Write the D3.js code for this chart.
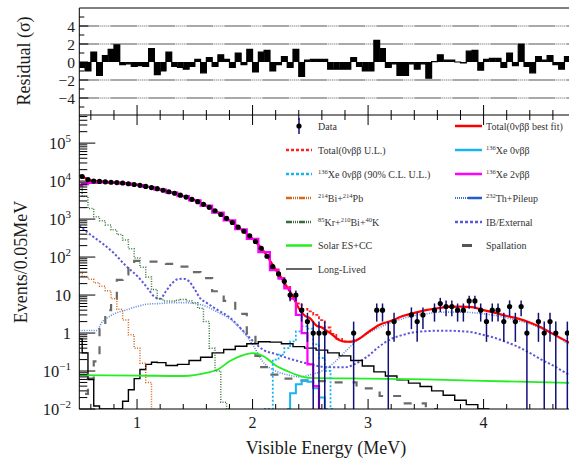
<!DOCTYPE html>
<html>
<head>
<meta charset="utf-8">
<script src="https://cdn.jsdelivr.net/npm/d3@7"></script>
<style>
body { margin: 0; background: #fff; }
svg { display: block; font-family: "Liberation Serif", "DejaVu Serif", serif; }
</style>
</head>
<body>
<div id="chart"></div>
<script>
// binning of the data histogram (MeV)
var binStart = 0.5, binWidth = 0.05;

// data: events per 0.05 MeV bin, from 0.5 MeV
var counts = [13200, 11000, 10000, 9800, 9550, 9330, 9120, 8910, 8510, 8130,
    7760, 7240, 6760, 6310, 5750, 5250, 4790, 4270, 3800, 3310,
    2880, 2450, 2040, 1660, 1320, 1050, 813, 617, 479, 363,
    257, 170, 105, 56, 36, 23, 10, 10, 4, 2,
    1, 1, 1, 0, 0, 0, 0, 1, 0, 0,
    0, 4, 4, 1, 2, 0, 0, 3, 2, 3,
    0, 4, 6, 5, 5, 4, 4, 7, 7, 4,
    2, 4, 4, 2, 5, 2, 5, 1, 0, 2,
    1, 2, 1, 0, 1, 1];

// residuals (sigma) per bin
var residuals = [-0.6, -1.0, 1.1, -1.5, 0.7, 1.4, 1.9, -0.3, -0.2, -0.5,
    -0.4, -0.5, 1.5, -1.4, -1.0, 1.1, -0.5, -0.6, -0.8, -0.5,
    0.3, -1.2, 0.5, -0.5, 0.8, 0.3, -0.6, 1.0, -0.3, 1.4,
    -1.1, 1.1, 1.3, -1.0, -0.3, 0.6, -0.6, 1.4, -1.6, 0.2,
    0.3, 0.3, 0.3, -0.8, -0.8, -0.8, -0.8, 0.5, -0.5, -1.0,
    -1.0, 2.4, 1.5, -0.6, -0.2, -1.5, -1.5, -0.2, -0.8, -0.2,
    -1.8, 0.05, 0.8, 0.2, 0.2, 0.0, -0.1, 1.2, 1.3, -0.9,
    0.3, 0.4, 0.4, -0.6, 1.0, -0.4, 2.0, -0.5, -1.2, 0.6,
    0.2, 0.7, -0.3, -0.8, 0.6, 0.3];

// model components: [energy (MeV), events / 0.05 MeV]
var totalFit = [[0.5, 14500], [0.55, 12000], [0.6, 10500], [0.7, 9800], [0.8, 9300], [0.9, 8800],
    [1.0, 8100], [1.1, 7100], [1.2, 6050], [1.3, 5050], [1.4, 4050], [1.5, 3120], [1.6, 2260],
    [1.7, 1490], [1.8, 925], [1.9, 545], [2.0, 305], [2.1, 138], [2.2, 47], [2.25, 28.5],
    [2.3, 16], [2.35, 9], [2.4, 4.5], [2.45, 2.9], [2.5, 2.4], [2.55, 1.6], [2.6, 1.4],
    [2.65, 1.1], [2.7, 0.85], [2.75, 0.65], [2.8, 0.59], [2.85, 0.59], [2.9, 0.65], [3.0, 1.05],
    [3.1, 1.65], [3.2, 2.1], [3.3, 2.8], [3.4, 3.4], [3.5, 4.0], [3.6, 4.5], [3.7, 4.9],
    [3.8, 4.95], [3.9, 4.8], [4.0, 4.0], [4.1, 3.4], [4.2, 2.8], [4.3, 2.4], [4.4, 1.9],
    [4.5, 1.4], [4.6, 0.95], [4.7, 0.65], [4.8, 0.45]];
var totalUL = [[2.2, 47], [2.25, 28.5], [2.3, 16.5], [2.35, 10], [2.4, 6], [2.45, 4.3], [2.5, 3.7],
    [2.55, 3], [2.6, 2.2], [2.65, 1.4], [2.7, 0.95], [2.75, 0.7], [2.8, 0.6], [2.85, 0.59], [2.9, 0.65]];
var xe0nuFit = [[2.3, 0.005], [2.35, 0.026], [2.4, 0.045], [2.45, 0.057], [2.5, 0.052],
    [2.55, 0.035], [2.6, 0.02], [2.65, 0.004]];
var xe0nuUL = [[2.1, 0.004], [2.15, 0.004], [2.2, 0.2], [2.25, 0.27], [2.3, 0.4], [2.35, 0.6],
    [2.4, 1.1], [2.45, 1.5], [2.5, 1.3], [2.55, 0.5], [2.6, 0.22], [2.65, 0.1], [2.7, 0.004]];
var xe2nu = [[0.5, 7600], [0.55, 8300], [0.6, 9000], [0.7, 9300], [0.8, 9000], [0.9, 8600],
    [1.0, 7900], [1.1, 7000], [1.2, 6000], [1.3, 5000], [1.4, 4000], [1.5, 3100], [1.6, 2250],
    [1.7, 1480], [1.8, 920], [1.9, 540], [2.0, 300], [2.1, 135], [2.2, 45], [2.25, 27],
    [2.3, 15], [2.35, 8], [2.4, 3], [2.45, 1.0], [2.5, 0.15], [2.55, 0.04], [2.6, 0.005]];
var bi214 = [[0.5, 37], [0.55, 31], [0.6, 26], [0.65, 21], [0.7, 17], [0.75, 13], [0.8, 8],
    [0.85, 4.2], [0.9, 2.2], [0.95, 0.9], [1.0, 0.4], [1.05, 0.16], [1.1, 0.05], [1.15, 0.005]];
var kr85 = [[0.5, 6500], [0.55, 4000], [0.6, 1900], [0.65, 1150], [0.7, 900], [0.75, 700],
    [0.8, 520], [0.85, 390], [0.9, 280], [0.95, 165], [1.0, 95], [1.05, 54], [1.1, 30],
    [1.15, 14], [1.2, 8], [1.25, 7], [1.3, 7], [1.35, 7.3], [1.4, 7.6], [1.45, 7], [1.5, 6.3],
    [1.55, 4.5], [1.6, 2], [1.65, 0.4], [1.7, 0.1], [1.75, 0.015], [1.8, 0.003]];
var solar = [[0.5, 0.078], [1.0, 0.076], [1.4, 0.074], [1.6, 0.089], [1.7, 0.11], [1.8, 0.18],
    [1.9, 0.25], [2.0, 0.295], [2.1, 0.24], [2.2, 0.14], [2.3, 0.1], [2.4, 0.076], [2.5, 0.066],
    [3.0, 0.063], [3.5, 0.06], [4.0, 0.055], [4.8, 0.048]];
var longLived = [[0.5, 0.7], [0.55, 0.3], [0.6, 0.06], [0.65, 0.012], [0.7, 0.005], [0.85, 0.005],
    [0.9, 0.016], [0.95, 0.032], [1.0, 0.063], [1.05, 0.11], [1.1, 0.15], [1.15, 0.17],
    [1.2, 0.166], [1.3, 0.14], [1.4, 0.15], [1.5, 0.19], [1.6, 0.23], [1.7, 0.3], [1.8, 0.37],
    [1.9, 0.45], [2.0, 0.52], [2.1, 0.59], [2.2, 0.575], [2.3, 0.52], [2.4, 0.44], [2.5, 0.4],
    [2.6, 0.355], [2.7, 0.3], [2.8, 0.25], [2.9, 0.19], [3.0, 0.135], [3.1, 0.095], [3.2, 0.074],
    [3.3, 0.059], [3.4, 0.048], [3.5, 0.039], [3.6, 0.03], [3.7, 0.023], [3.8, 0.017],
    [3.9, 0.013], [4.0, 0.01], [4.05, 0.005]];
var spallation = [[0.55, 0.025], [0.6, 0.063], [0.65, 0.18], [0.7, 1.26], [0.75, 4], [0.8, 8],
    [0.85, 25], [0.9, 35], [0.95, 63], [1.0, 79], [1.1, 76], [1.2, 76], [1.3, 66], [1.4, 56],
    [1.5, 40], [1.6, 28], [1.7, 12.6], [1.8, 7], [1.9, 3.2], [2.0, 1.0], [2.05, 0.25],
    [2.1, 0.126], [2.2, 0.08], [2.3, 0.063], [2.4, 0.056], [2.6, 0.054], [2.8, 0.05],
    [3.0, 0.035], [3.2, 0.022], [3.4, 0.014], [3.6, 0.008]];
var ibExternal = [[0.5, 676], [0.6, 380], [0.7, 229], [0.8, 126], [0.9, 60], [1.0, 32], [1.1, 14],
    [1.15, 9], [1.2, 8], [1.25, 12.6], [1.3, 20], [1.35, 26], [1.4, 27], [1.45, 23], [1.5, 14],
    [1.55, 8], [1.6, 6.3], [1.7, 4], [1.8, 2.6], [1.9, 1.3], [2.0, 0.63], [2.1, 0.35],
    [2.2, 0.28], [2.3, 0.22], [2.4, 0.18], [2.5, 0.15], [2.6, 0.13], [2.7, 0.126], [2.8, 0.126],
    [2.9, 0.16], [3.0, 0.25], [3.1, 0.45], [3.2, 0.7], [3.3, 0.89], [3.4, 1.05], [3.5, 1.12],
    [3.6, 1.15], [3.7, 1.15], [3.8, 1.12], [3.9, 1.05], [4.0, 0.89], [4.1, 0.74], [4.2, 0.575],
    [4.3, 0.43], [4.4, 0.3], [4.5, 0.2], [4.6, 0.14], [4.7, 0.093], [4.8, 0.063]];
var thPileup = [[0.5, 1.17], [0.65, 1.17], [0.7, 2], [0.75, 2.6], [0.8, 3.2], [0.9, 4], [1.0, 5],
    [1.1, 5.8], [1.2, 6], [1.3, 6.3], [1.4, 6.3], [1.5, 6], [1.6, 5], [1.7, 3.5], [1.8, 2.4],
    [1.9, 1.26], [2.0, 0.5], [2.1, 0.16], [2.2, 0.1], [2.3, 0.08], [2.4, 0.07], [2.5, 0.08],
    [2.6, 0.1], [2.7, 0.16], [2.8, 0.32], [2.9, 0.63], [3.0, 1.0], [3.1, 1.4], [3.2, 1.9],
    [3.3, 2.4], [3.4, 2.9], [3.5, 3.2], [3.6, 3.5], [3.7, 3.55], [3.8, 3.55], [3.9, 3.45],
    [4.0, 3.2], [4.1, 2.9], [4.2, 2.5], [4.3, 2.1], [4.4, 1.75], [4.5, 1.3], [4.6, 0.93],
    [4.7, 0.6], [4.8, 0.4]];

var residualLines = [4, 2, -2, -4];
var xMajor = [1, 2, 3, 4];
var resTicks = [4, 2, 0, -2, -4];
var decades = [-2, -1, 0, 1, 2, 3, 4, 5];

// Dimensions
var width = 569, height = 461;
var left = 79.3, bottomY = 409, splitY = 115, topY = 8;

var x = d3.scaleLinear().domain([0.5, 4.8]).range([left, 576]);
var y = d3.scaleLog().domain([0.01, 5.5e5]).range([bottomY, splitY]).clamp(true);
var yr = d3.scaleLinear().domain([-6, 6]).range([splitY + 1, topY]);

var svg = d3.select("#chart").append("svg")
    .attr("width", width)
    .attr("height", height);

svg.append("clipPath").attr("id", "clipMain").append("rect")
    .attr("x", left).attr("y", splitY).attr("width", width - left).attr("height", bottomY - splitY);
svg.append("clipPath").attr("id", "clipRes").append("rect")
    .attr("x", left).attr("y", topY).attr("width", width - left).attr("height", splitY - topY);

// ---------- residual panel ----------
var res = svg.append("g").attr("clip-path", "url(#clipRes)");

res.selectAll(".ref")
    .data(residualLines)
    .enter().append("line")
    .attr("x1", left).attr("x2", width)
    .attr("y1", function (d) { return yr(d); })
    .attr("y2", function (d) { return yr(d); })
    .attr("stroke", "#555")
    .attr("stroke-width", 1.1)
    .attr("stroke-dasharray", "27,1,1,1,1,1,1,1,1,1,1,1")
    .attr("stroke-dashoffset", 7);

var resBins = residuals.map(function (v, i) {
    return { lo: binStart + i * binWidth, v: v };
});
var bw = x(binStart + binWidth) - x(binStart);

res.selectAll(".rbar")
    .data(resBins)
    .enter().append("rect")
    .attr("x", function (d) { return x(d.lo); })
    .attr("width", bw + 0.3)
    .attr("y", function (d) { return Math.min(yr(0), yr(d.v)); })
    .attr("height", function (d) { return Math.abs(yr(d.v) - yr(0)); })
    .attr("fill", "#000");

var outline = resBins.map(function (d) { return [d.lo, d.v]; });
outline.push([binStart + resBins.length * binWidth, residuals[residuals.length - 1]]);
res.append("path")
    .attr("d", d3.line().x(function (d) { return x(d[0]); }).y(function (d) { return yr(d[1]); })
        .curve(d3.curveStepAfter)(outline))
    .attr("fill", "none")
    .attr("stroke", "#000")
    .attr("stroke-width", 1.2);

// ---------- main panel curves ----------
var main = svg.append("g").attr("clip-path", "url(#clipMain)");

function drawCurve(points, color, w, dash, curve) {
    var line = d3.line()
        .x(function (d) { return x(d[0]); })
        .y(function (d) { return y(d[1]); })
        .curve(curve);
    main.append("path")
        .attr("d", line(points))
        .attr("fill", "none")
        .attr("stroke", color)
        .attr("stroke-width", w)
        .attr("stroke-dasharray", dash);
}

drawCurve(ibExternal, "#5a5ad8", 2, "2.2,2", d3.curveMonotoneX);
drawCurve(thPileup, "#5c86e0", 1.6, "1,1.4", d3.curveMonotoneX);
drawCurve(spallation, "#6a6a6a", 2.2, "8,10", d3.curveStep);
drawCurve(longLived, "#000", 1.4, null, d3.curveStep);
drawCurve(solar, "#22ee22", 1.8, null, d3.curveMonotoneX);
drawCurve(bi214, "#d2691e", 1.5, "1,1.5", d3.curveStep);
drawCurve(kr85, "#3d7a3d", 1.5, "1,1.5", d3.curveStep);
drawCurve(xe0nuUL, "#19b4f0", 1.8, "2,2", d3.curveStep);
drawCurve(xe0nuFit, "#19b4f0", 2, null, d3.curveStep);
drawCurve(totalUL, "#ff2020", 1.8, "3,2", d3.curveStep);
drawCurve(totalFit, "#ff0000", 2.2, null, d3.curveMonotoneX);
drawCurve(xe2nu, "#ff00ff", 2.2, null, d3.curveStep);

// data points with error bars
var points = counts.map(function (n, i) {
    return { e: binStart + (i + 0.5) * binWidth, n: n };
}).filter(function (d) { return d.n > 0; });

main.selectAll(".err")
    .data(points)
    .enter().append("line")
    .attr("x1", function (d) { return x(d.e); })
    .attr("x2", function (d) { return x(d.e); })
    .attr("y1", function (d) { return y(d.n + Math.sqrt(d.n)); })
    .attr("y2", function (d) { return y(Math.max(d.n - Math.sqrt(d.n), 1e-4)); })
    .attr("stroke", "#10107a")
    .attr("stroke-width", 1.5);

main.selectAll(".pt")
    .data(points)
    .enter().append("circle")
    .attr("cx", function (d) { return x(d.e); })
    .attr("cy", function (d) { return y(d.n); })
    .attr("r", 2.6)
    .attr("fill", "#000");

// ---------- frames and ticks ----------
var axes = svg.append("g").attr("stroke", "#000").attr("stroke-width", 1);
axes.append("line").attr("x1", left).attr("x2", left).attr("y1", topY).attr("y2", bottomY);
axes.append("line").attr("x1", left).attr("x2", width).attr("y1", topY).attr("y2", topY);
axes.append("line").attr("x1", left).attr("x2", width).attr("y1", splitY).attr("y2", splitY);
axes.append("line").attr("x1", left).attr("x2", width).attr("y1", bottomY).attr("y2", bottomY);

var xTicks = d3.range(6, 48, 2).map(function (k) { return k / 10; });
xTicks.forEach(function (t) {
    var major = xMajor.indexOf(t) !== -1;
    var len = major ? 10 : 5;
    var px = x(t);
    axes.append("line").attr("x1", px).attr("x2", px).attr("y1", bottomY).attr("y2", bottomY - len);
    axes.append("line").attr("x1", px).attr("x2", px).attr("y1", splitY).attr("y2", splitY + len);
    axes.append("line").attr("x1", px).attr("x2", px).attr("y1", splitY).attr("y2", splitY - len);
});

// log y ticks
decades.forEach(function (p) {
    for (var k = 1; k <= 9; k++) {
        var v = k * Math.pow(10, p);
        if (v > 5.5e5) break;
        var len = k === 1 ? 16 : 8;
        axes.append("line").attr("x1", left).attr("x2", left + len)
            .attr("y1", y(v)).attr("y2", y(v));
    }
});

// residual y ticks
d3.range(-5, 6).forEach(function (v) {
    var len = v % 2 === 0 ? 9 : 5;
    axes.append("line").attr("x1", left).attr("x2", left + len)
        .attr("y1", yr(v)).attr("y2", yr(v));
});

// ---------- labels ----------
var txt = svg.append("g").attr("fill", "#1a1a1a");

xMajor.forEach(function (t) {
    txt.append("text").attr("x", x(t)).attr("y", 428)
        .attr("text-anchor", "middle").attr("font-size", 16).text(t);
});

decades.forEach(function (p) {
    var t = txt.append("text").attr("x", 71).attr("y", y(Math.pow(10, p)) + 6)
        .attr("text-anchor", "end").attr("font-size", 16.5);
    if (p === 0) { t.text("1"); return; }
    t.append("tspan").text("10");
    if (p !== 1) {
        t.append("tspan").attr("dy", -7).attr("font-size", 11)
            .text(p < 0 ? "\u2212" + (-p) : String(p));
    }
});

resTicks.forEach(function (v) {
    txt.append("text").attr("x", 75).attr("y", yr(v) + 5.5)
        .attr("text-anchor", "end").attr("font-size", 15.5)
        .text(v < 0 ? "\u2212" + (-v) : v);
});

txt.append("text")
    .attr("transform", "translate(27,262) rotate(-90)")
    .attr("text-anchor", "middle").attr("font-size", 18)
    .text("Events/0.05MeV");
txt.append("text")
    .attr("transform", "translate(30,61) rotate(-90)")
    .attr("text-anchor", "middle").attr("font-size", 18)
    .text("Residual (\u03c3)");
txt.append("text")
    .attr("x", 326).attr("y", 454)
    .attr("text-anchor", "middle").attr("font-size", 18)
    .text("Visible Energy (MeV)");

// ---------- legend ----------
var legendLeft = [
    { kind: "data", parts: [["Data", 0]] },
    { color: "#ff2020", dash: "3,2", w: 2.5, parts: [["Total(0\u03bd\u03b2\u03b2 U.L.)", 0]] },
    { color: "#19b4f0", dash: "3,2", w: 2.5, parts: [["136", 1], ["Xe 0\u03bd\u03b2\u03b2 (90% C.L. U.L.)", 0]] },
    { color: "#d2691e", dash: "6,1,1,1,1,1,1,1", w: 2.5, parts: [["214", 1], ["Bi+", 0], ["214", 1], ["Pb", 0]] },
    { color: "#3d6a3d", dash: "6,1,1,1,1,1,1,1", w: 2.5, parts: [["85", 1], ["Kr+", 0], ["210", 1], ["Bi+", 0], ["40", 1], ["K", 0]] },
    { color: "#22ee22", w: 2.5, parts: [["Solar ES+CC", 0]] },
    { color: "#000", w: 1.2, parts: [["Long-Lived", 0]] }
];
var legendRight = [
    { color: "#ff0000", w: 2.5, parts: [["Total(0\u03bd\u03b2\u03b2 best fit)", 0]] },
    { color: "#19b4f0", w: 2.5, parts: [["136", 1], ["Xe 0\u03bd\u03b2\u03b2", 0]] },
    { color: "#ff00ff", w: 2.5, parts: [["136", 1], ["Xe 2\u03bd\u03b2\u03b2", 0]] },
    { kind: "th", parts: [["232", 1], ["Th+Pileup", 0]] },
    { color: "#5a5ad8", dash: "3,2", w: 2.5, parts: [["IB/External", 0]] },
    { kind: "spall", parts: [["Spallation", 0]] }
];
var rowY = [126, 150, 174, 198, 222, 245.5, 269];

function drawLegend(items, x0, x1, tx) {
    items.forEach(function (d, i) {
        var yy = rowY[i];
        var g = svg.append("g");
        if (d.kind === "data") {
            var cx = (x0 + x1) / 2;
            g.append("line").attr("x1", cx).attr("x2", cx).attr("y1", yy - 8).attr("y2", yy + 8)
                .attr("stroke", "#10107a").attr("stroke-width", 1.5);
            g.append("circle").attr("cx", cx).attr("cy", yy).attr("r", 2.6).attr("fill", "#000");
        } else if (d.kind === "th") {
            g.append("line").attr("x1", x0).attr("x2", x0 + 13).attr("y1", yy).attr("y2", yy)
                .attr("stroke", "#3b6fd6").attr("stroke-width", 2).attr("stroke-dasharray", "1,1");
            g.append("line").attr("x1", x0 + 13).attr("x2", x1).attr("y1", yy).attr("y2", yy)
                .attr("stroke", "#1f5fcc").attr("stroke-width", 2.5);
        } else if (d.kind === "spall") {
            g.append("line").attr("x1", x0 + 7).attr("x2", x0 + 17).attr("y1", yy).attr("y2", yy)
                .attr("stroke", "#555").attr("stroke-width", 3);
        } else {
            g.append("line").attr("x1", x0).attr("x2", x1).attr("y1", yy).attr("y2", yy)
                .attr("stroke", d.color).attr("stroke-width", d.w)
                .attr("stroke-dasharray", d.dash || null);
        }
        var t = g.append("text").attr("x", tx).attr("y", yy + 3.5)
            .attr("font-size", 10).attr("fill", "#333");
        d.parts.forEach(function (p, j) {
            var s = t.append("tspan").text(p[0]);
            if (p[1]) {
                s.attr("font-size", 6.5).attr("dy", -4);
            } else if (j > 0 && d.parts[j - 1][1]) {
                s.attr("dy", 4);
            }
        });
    });
}

drawLegend(legendLeft, 286, 312, 318);
drawLegend(legendRight, 455, 482, 486);
</script>
</body>
</html>
